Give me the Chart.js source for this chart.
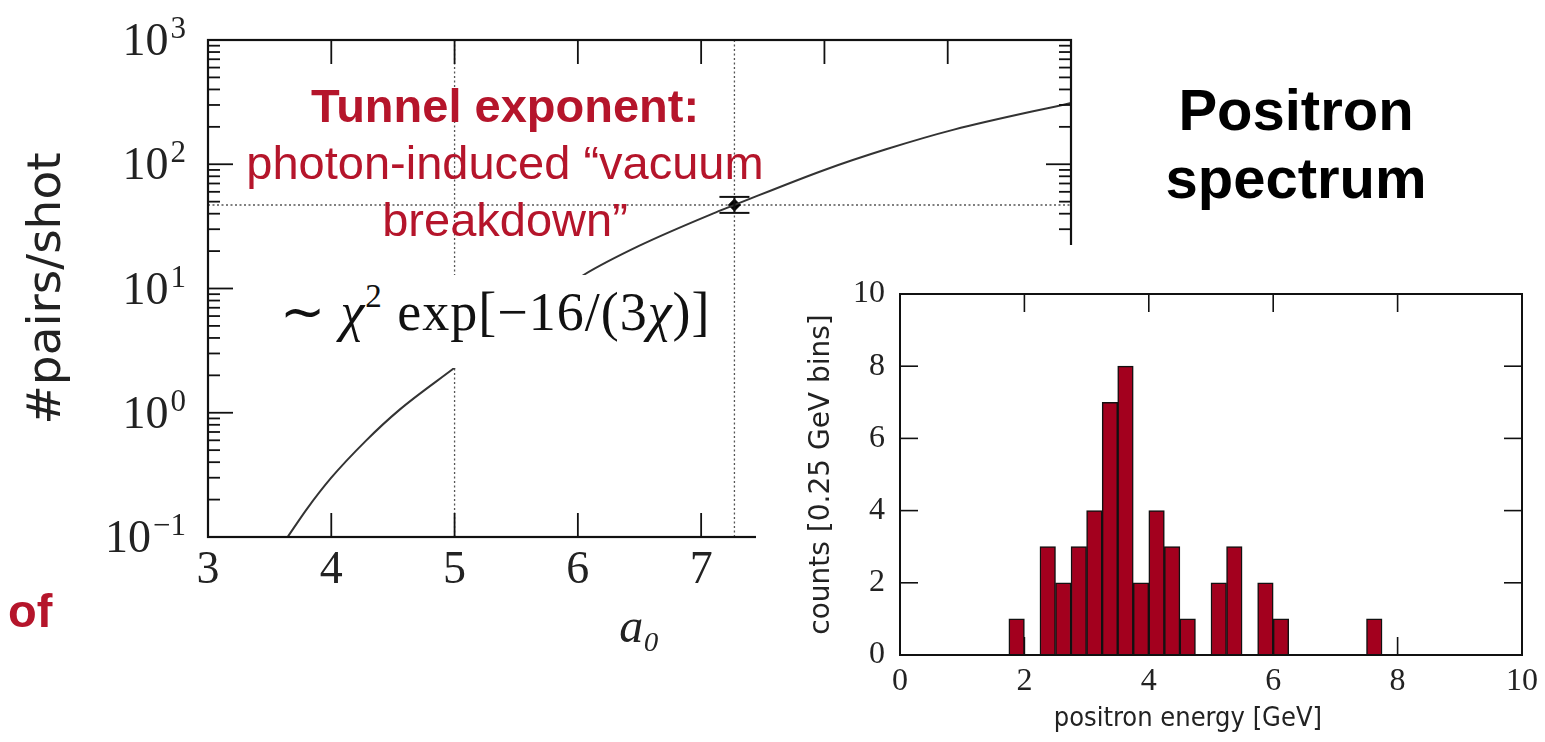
<!DOCTYPE html>
<html>
<head>
<meta charset="utf-8">
<script src="https://cdn.jsdelivr.net/npm/chart.js@4.4.0/dist/chart.umd.min.js"></script>
<style>
  html, body { margin: 0; padding: 0; background: #fff; }
  body { width: 1545px; height: 742px; position: relative; overflow: hidden; font-family: "Liberation Sans", Arial, sans-serif; }
  #leftChart { position: absolute; left: 0; top: 0; }
  #rightBox { position: absolute; left: 756px; top: 245px; width: 789px; height: 497px; background: #fff; }
  .red { position: absolute; color: #b5152b; font-size: 47px; line-height: 57px; white-space: nowrap; }
  #note { left: 205px; top: 77px; width: 600px; text-align: center; }
  #note b { font-weight: bold; }
  #of { left: 8px; top: 582px; font-weight: bold; }
  #formula { position: absolute; left: 236px; top: 275px; width: 492px; height: 93px; background: #fff;
             font-family: "Liberation Serif", serif; font-size: 54px; line-height: 74px; color: #111;
             padding-left: 44px; box-sizing: border-box; white-space: nowrap; letter-spacing: 1px; }
  #formula i { font-style: italic; }
  #formula .sup { font-size: 33px; position: relative; top: -23px; }
  #title { position: absolute; left: 1096px; top: 76px; width: 400px; text-align: center;
           font-weight: bold; font-size: 58px; line-height: 68px; color: #000; }
</style>
</head>
<body>
<canvas id="leftChart" width="1100" height="742"></canvas>
<div id="formula">∼ <i>χ</i><span class="sup">2</span> exp[−16/(3<i>χ</i>)]</div>
<div class="red" id="note"><b>Tunnel exponent:</b><br>photon-induced “vacuum<br>breakdown”</div>
<div class="red" id="of">of</div>
<div id="rightBox"><canvas id="rightChart" width="789" height="497"></canvas></div>
<div id="title">Positron<br>spectrum</div>

<script>
// --- left panel: pairs per shot vs a0 ---
const curveA0 = [3.646, 3.8, 4.0, 4.28, 4.55, 5.0, 5.5, 6.05, 6.5, 7.12, 7.27, 8.0, 8.5, 9.05, 10];
const curveN  = [0.1, 0.167, 0.30, 0.594, 1.05, 2.3, 5.5, 12.9, 22.1, 41, 47, 90, 132, 190, 312];

const measA0 = [7.27];
const measN  = [47];
const measLo = [40.6];
const measHi = [54.6];

const refA0 = [5, 7.27];   // dotted verticals
const refN  = [47];        // dotted horizontal

const xTicksLeft = [3, 4, 5, 6, 7, 8, 9, 10];
const yTicksLeft = [0.1, 1, 10, 100, 1000];
const yExpLeft = ['−1', '0', '1', '2', '3'];   // labels are 10^exp

// --- right panel: positron spectrum, 0.25 GeV bins ---
const binCenters = [1.875, 2.375, 2.625, 2.875, 3.125, 3.375, 3.625, 3.875, 4.125, 4.375, 4.625, 5.125, 5.375, 5.875, 6.125, 7.625];
const binCounts  = [1, 3, 2, 3, 4, 7, 8, 2, 4, 3, 1, 2, 3, 2, 1, 1];
const xTicksRight = [0, 2, 4, 6, 8, 10];
const yTicksRight = [0, 2, 4, 6, 8, 10];

const SERIF = '"Liberation Serif", "Times New Roman", serif';

function seg(ctx, x1, y1, x2, y2) {
    ctx.beginPath(); ctx.moveTo(x1, y1); ctx.lineTo(x2, y2); ctx.stroke();
}

const leftDecor = {
    id: 'leftDecor',
    beforeDatasetsDraw(chart) {
        const { ctx, chartArea: a, scales: { x, y } } = chart;
        ctx.save();
        ctx.strokeStyle = '#555';
        ctx.lineWidth = 1.3;
        ctx.setLineDash([2, 2.5]);
        refA0.forEach(v => { const px = x.getPixelForValue(v); seg(ctx, px, a.top, px, a.bottom); });
        refN.forEach(v => { const py = y.getPixelForValue(v); seg(ctx, a.left, py, a.right, py); });
        ctx.restore();
    },
    afterDatasetsDraw(chart) {
        const { ctx, chartArea: a, scales: { x, y } } = chart;
        ctx.save();
        ctx.strokeStyle = '#111';
        ctx.lineWidth = 2;
        // error bar
        measA0.forEach((v, i) => {
            const px = x.getPixelForValue(v);
            const lo = y.getPixelForValue(measLo[i]), hi = y.getPixelForValue(measHi[i]);
            seg(ctx, px, lo, px, hi);
            seg(ctx, px - 15, lo, px + 15, lo);
            seg(ctx, px - 15, hi, px + 15, hi);
        });
        // inward ticks
        ctx.lineWidth = 1.8;
        xTicksLeft.forEach(v => {
            const px = x.getPixelForValue(v);
            seg(ctx, px, a.bottom, px, a.bottom - 24);
            seg(ctx, px, a.top, px, a.top + 24);
        });
        yTicksLeft.forEach(v => {
            const py = y.getPixelForValue(v);
            seg(ctx, a.left, py, a.left + 25, py);
            seg(ctx, a.right, py, a.right - 25, py);
            if (v < 1000) {
                for (let m = 2; m <= 9; m++) {
                    const pm = y.getPixelForValue(v * m);
                    seg(ctx, a.left, pm, a.left + 12, pm);
                    seg(ctx, a.right, pm, a.right - 12, pm);
                }
            }
        });
        ctx.lineWidth = 2.2;
        ctx.strokeRect(a.left, a.top, a.right - a.left, a.bottom - a.top);

        // y labels 10^n with raised exponent
        ctx.fillStyle = '#222';
        ctx.textBaseline = 'alphabetic';
        ctx.textAlign = 'right';
        const xr = a.left - 22;
        yTicksLeft.forEach((v, i) => {
            const base = y.getPixelForValue(v) + 15;
            ctx.font = '31px ' + SERIF;
            const w = ctx.measureText(yExpLeft[i]).width;
            ctx.fillText(yExpLeft[i], xr, base - 17);
            ctx.font = '46px ' + SERIF;
            ctx.fillText('10', xr - w - 2, base);
        });
        ctx.restore();
    }
};

new Chart(document.getElementById('leftChart'), {
    type: 'line',
    data: {
        datasets: [
            {
                data: curveA0.map((v, i) => ({ x: v, y: curveN[i] })),
                borderColor: '#333',
                borderWidth: 2,
                pointRadius: 0,
                cubicInterpolationMode: 'monotone'
            },
            {
                data: measA0.map((v, i) => ({ x: v, y: measN[i] })),
                showLine: false,
                pointStyle: 'rectRot',
                pointRadius: 6,
                backgroundColor: '#000',
                borderColor: '#000'
            }
        ]
    },
    options: {
        responsive: false,
        animation: false,
        devicePixelRatio: 1,
        layout: { padding: { left: 0, top: 40, right: 27, bottom: 0 } },
        plugins: { legend: { display: false }, tooltip: { enabled: false } },
        scales: {
            x: {
                type: 'linear', min: 3, max: 10,
                grid: { display: false, drawTicks: false },
                border: { display: false },
                afterBuildTicks: s => { s.ticks = xTicksLeft.map(v => ({ value: v })); },
                afterFit: s => { s.height = 205; },
                ticks: { padding: 6, color: '#222', font: { family: SERIF, size: 46 }, autoSkip: false, maxRotation: 0 },
                title: { display: true, text: 'a₀', color: '#222', font: { family: SERIF, size: 48, style: 'italic' }, padding: { top: 0, bottom: 84 } }
            },
            y: {
                type: 'logarithmic', min: 0.1, max: 1000,
                grid: { display: false, drawTicks: false },
                border: { display: false },
                afterBuildTicks: s => { s.ticks = yTicksLeft.map(v => ({ value: v, major: true })); },
                afterFit: s => { s.width = 208; },
                ticks: { display: false },
                title: { display: true, text: '#pairs/shot', color: '#222', font: { family: '"DejaVu Sans", sans-serif', size: 47 }, padding: { top: 20, bottom: 0 } }
            }
        }
    },
    plugins: [leftDecor]
});

const rightDecor = {
    id: 'rightDecor',
    beforeDatasetsDraw(chart) {
        const { ctx, chartArea: a, scales: { x, y } } = chart;
        ctx.save();
        ctx.strokeStyle = '#111';
        ctx.lineWidth = 1.6;
        xTicksRight.slice(1, -1).forEach(v => {
            const px = x.getPixelForValue(v);
            seg(ctx, px, a.bottom, px, a.bottom - 18);
            seg(ctx, px, a.top, px, a.top + 18);
        });
        yTicksRight.slice(1, -1).forEach(v => {
            const py = y.getPixelForValue(v);
            seg(ctx, a.left, py, a.left + 18, py);
            seg(ctx, a.right, py, a.right - 18, py);
        });
        ctx.restore();
    },
    afterDatasetsDraw(chart) {
        const { ctx, chartArea: a } = chart;
        ctx.save();
        ctx.strokeStyle = '#111';
        ctx.lineWidth = 2;
        ctx.strokeRect(a.left, a.top, a.right - a.left, a.bottom - a.top);
        ctx.restore();
    }
};

new Chart(document.getElementById('rightChart'), {
    type: 'bar',
    data: {
        datasets: [{
            data: binCenters.map((v, i) => ({ x: v, y: binCounts[i] })),
            backgroundColor: '#a3001e',
            borderColor: '#111',
            borderWidth: 1.5,
            barPercentage: 1,
            categoryPercentage: 1
        }]
    },
    options: {
        responsive: false,
        animation: false,
        devicePixelRatio: 1,
        layout: { padding: { left: 0, top: 49, right: 22, bottom: 0 } },
        plugins: { legend: { display: false }, tooltip: { enabled: false } },
        scales: {
            x: {
                type: 'linear', min: 0, max: 10, offset: false,
                grid: { display: false, drawTicks: false, offset: false },
                border: { display: false },
                afterBuildTicks: s => { s.ticks = xTicksRight.map(v => ({ value: v })); },
                afterFit: s => { s.height = 87; },
                ticks: { padding: 7, color: '#222', font: { family: SERIF, size: 32 }, autoSkip: false, maxRotation: 0 },
                title: { display: true, text: 'positron energy [GeV]\u00a0\u00a0\u00a0\u00a0\u00a0\u00a0', color: '#222',
                         font: { family: '"DejaVu Sans Condensed", "DejaVu Sans", sans-serif', size: 27 }, padding: { top: 0, bottom: 7 } }
            },
            y: {
                type: 'linear', min: 0, max: 10,
                grid: { display: false, drawTicks: false },
                border: { display: false },
                afterBuildTicks: s => { s.ticks = yTicksRight.map(v => ({ value: v })); },
                afterFit: s => { s.width = 144; },
                ticks: { padding: 15, color: '#222', font: { family: SERIF, size: 32 }, autoSkip: false },
                title: { display: true, text: 'counts [0.25 GeV bins]', color: '#222',
                         font: { family: '"DejaVu Sans", sans-serif', size: 28 }, padding: { top: 49, bottom: 0 } }
            }
        }
    },
    plugins: [rightDecor]
});
</script>
</body>
</html>
